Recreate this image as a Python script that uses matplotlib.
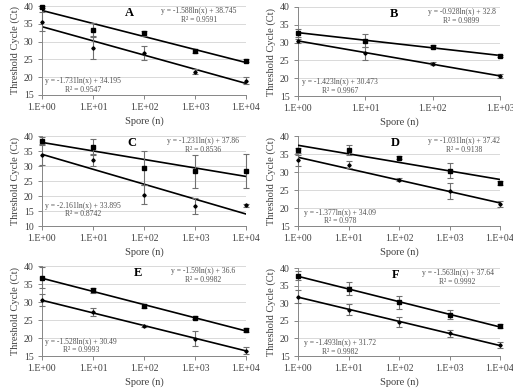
import matplotlib
matplotlib.use("Agg")
import matplotlib.pyplot as plt
from matplotlib.ticker import FixedLocator, NullLocator
import numpy as np

plt.rcParams['font.family'] = ['Liberation Serif', 'DejaVu Serif']

# ===============================
# Data
# ===============================
spores4 = [1, 10, 100, 1000, 10000]
spores3 = [1, 10, 100, 1000]

a_up = [39.8, 33.3, 32.3, 27.3, 24.6]
a_up_err = [0.3, 1.8, 0.6, 0.5, 0.4]
a_lo = [35.6, 28.2, 26.9, 21.6, 19.0]
a_lo_err = [2.7, 3.0, 2.0, 0.7, 1.0]

b_up = [32.8, 30.5, 28.9, 26.2]
b_up_err = [1.1, 1.8, 0.4, 0.3]
b_lo = [30.5, 27.0, 24.1, 20.6]
b_lo_err = [0.6, 1.8, 0.5, 0.5]

c_up = [38.4, 36.3, 29.4, 28.2, 28.3]
c_up_err = [1.2, 2.6, 5.6, 5.5, 5.7]
c_lo = [33.8, 32.0, 20.4, 16.6, 16.9]
c_lo_err = [3.3, 2.0, 3.2, 2.6, 0.6]

d_up = [36.0, 36.1, 34.0, 30.4, 27.0]
d_up_err = [0.7, 1.4, 0.5, 2.0, 0.5]
d_lo = [33.2, 32.0, 27.9, 24.7, 21.1]
d_lo_err = [1.5, 1.0, 0.3, 2.2, 0.8]

e_up = [36.8, 33.2, 28.9, 25.6, 22.2]
e_up_err = [2.9, 0.6, 0.5, 0.4, 0.6]
e_lo = [30.5, 27.2, 23.4, 19.8, 16.5]
e_lo_err = [1.7, 1.1, 0.3, 2.1, 1.0]

f_up = [37.8, 34.1, 30.2, 26.7, 23.5]
f_up_err = [1.3, 1.9, 1.8, 1.3, 0.6]
f_lo = [31.9, 28.2, 24.6, 21.4, 18.1]
f_lo_err = [1.8, 1.6, 1.4, 1.0, 0.9]

# trendlines: y = slope*ln(x) + intercept, (slope, intercept, r2)
a_fit_up = (-1.588, 38.745, "0.9591")
a_fit_lo = (-1.731, 34.195, "0.9547")
b_fit_up = (-0.928, 32.8, "0.9899")
b_fit_lo = (-1.423, 30.473, "0.9967")
c_fit_up = (-1.231, 37.86, "0.8536")
c_fit_lo = (-2.161, 33.895, "0.8742")
d_fit_up = (-1.031, 37.42, "0.9138")
d_fit_lo = (-1.377, 34.09, "0.978")
e_fit_up = (-1.59, 36.6, "0.9982")
e_fit_lo = (-1.528, 30.49, "0.9993")
f_fit_up = (-1.563, 37.64, "0.9992")
f_fit_lo = (-1.493, 31.72, "0.9982")

tick_labels4 = ["1.E+00", "1.E+01", "1.E+02", "1.E+03", "1.E+04"]
tick_labels3 = ["1.E+00", "1.E+01", "1.E+02", "1.E+03"]

W, H = 513, 388

# (label, x, up, up_err, lo, lo_err, fit_up, fit_lo, ticklabels, ylim,
#  rect px (left, right, top, bottom), letter x, up-eq x, lo-eq pos)
panels = [
    ("A", spores4, a_up, a_up_err, a_lo, a_lo_err, a_fit_up, a_fit_lo, tick_labels4, (15, 40),
     (42, 246, 6, 95), 0.43, 0.77, 0.2, 0.11),
    ("B", spores3, b_up, b_up_err, b_lo, b_lo_err, b_fit_up, b_fit_lo, tick_labels3, (15, 40),
     (298, 500, 7, 96), 0.475, 0.81, 0.21, 0.11),
    ("C", spores4, c_up, c_up_err, c_lo, c_lo_err, c_fit_up, c_fit_lo, tick_labels4, (10, 40),
     (42, 246, 136, 226), 0.44, 0.79, 0.2, 0.18),
    ("D", spores4, d_up, d_up_err, d_lo, d_lo_err, d_fit_up, d_fit_lo, tick_labels4, (15, 40),
     (298, 500, 136, 226), 0.48, 0.82, 0.21, 0.10),
    ("E", spores4, e_up, e_up_err, e_lo, e_lo_err, e_fit_up, e_fit_lo, tick_labels4, (15, 40),
     (42, 246, 266, 356), 0.47, 0.79, 0.19, 0.11),
    ("F", spores4, f_up, f_up_err, f_lo, f_lo_err, f_fit_up, f_fit_lo, tick_labels4, (15, 40),
     (298, 500, 268, 356), 0.485, 0.79, 0.21, 0.10),
]

fig = plt.figure(figsize=(W / 100, H / 100), dpi=100)

axis_col = "#868686"
text_col = "#404040"

for (letter, xs, up, up_err, lo, lo_err, fit_up, fit_lo, tlabels, ylim,
     rect, lx, ux, lox, loy) in panels:
    l, r, t, b = rect
    ax = fig.add_axes([l / W, 1 - b / H, (r - l) / W, (b - t) / H])
    ax.set_xscale("log")
    xmax = xs[-1]
    ax.set_xlim(1, xmax)
    ax.set_ylim(*ylim)

    ax.yaxis.set_major_locator(FixedLocator(np.arange(ylim[0], ylim[1] + 1, 5)))
    ax.xaxis.set_major_locator(FixedLocator(xs))
    ax.xaxis.set_minor_locator(NullLocator())
    ax.set_xticklabels(tlabels)
    ax.grid(axis="y", color="#d9d9d9", lw=0.7)
    ax.set_axisbelow(True)
    for s in ["top", "right"]:
        ax.spines[s].set_visible(False)
    for s in ["left", "bottom"]:
        ax.spines[s].set_color(axis_col)
        ax.spines[s].set_linewidth(0.7)
    ax.tick_params(axis="both", labelsize=7, colors=axis_col, labelcolor=text_col,
                   length=3, width=0.7, pad=3)

    # trendlines
    xx = np.logspace(0, np.log10(xmax), 50)
    for sl, ic, _ in (fit_up, fit_lo):
        ax.plot(xx, sl * np.log(xx) + ic, color="black", lw=1.2, zorder=3)

    ax.errorbar(xs, up, yerr=up_err, fmt="s", ms=2.6, color="black", mfc="black",
                ecolor="#707070", elinewidth=0.8, capsize=2.2, capthick=0.8,
                clip_on=False, zorder=4)
    ax.errorbar(xs, lo, yerr=lo_err, fmt="D", ms=1.7, color="black", mfc="black",
                ecolor="#707070", elinewidth=0.8, capsize=2.2, capthick=0.8,
                clip_on=False, zorder=4)

    ax.set_ylabel("Threshold Cycle (Ct)", fontsize=7.5, color=text_col, labelpad=3)
    ax.set_xlabel("Spore (n)", fontsize=7.5, color=text_col, labelpad=3)

    ax.text(lx, 0.92, letter, transform=ax.transAxes, fontsize=9, fontweight="bold",
            ha="center", va="center")

    ax.text(ux, 0.895, "y = %gln(x) + %g\nR² = %s" % fit_up, transform=ax.transAxes,
            fontsize=5.5, color="#505050", ha="center", va="center", linespacing=1.1)
    ax.text(lox, loy, "y = %gln(x) + %g\nR² = %s" % fit_lo, transform=ax.transAxes,
            fontsize=5.5, color="#505050", ha="center", va="center", linespacing=1.1)

fig.savefig("out.png", dpi=100)
